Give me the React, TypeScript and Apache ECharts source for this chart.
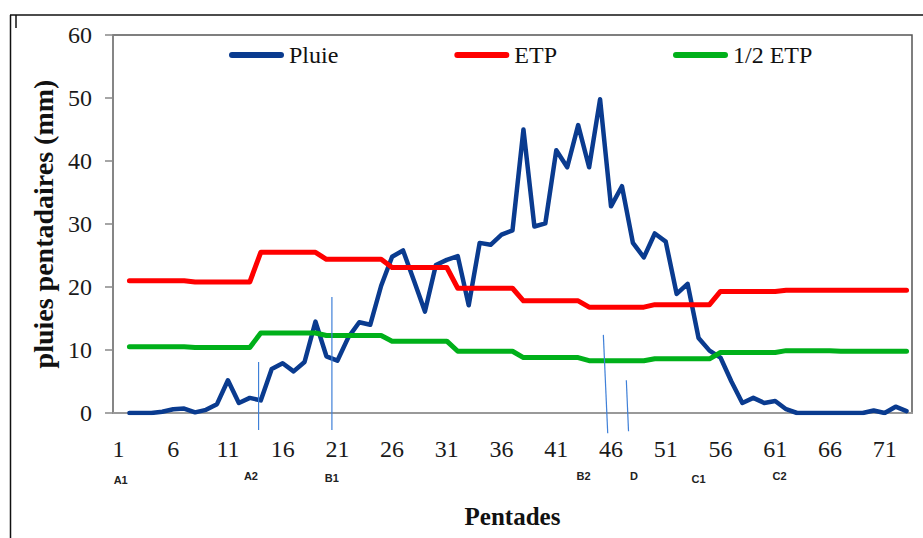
import { useEffect, useRef } from "react";
import * as echarts from "echarts";

// Pentades 1..73 (category labels)
const pentades: string[] = Array.from({ length: 73 }, (_, i) => String(i + 1));

// Pluie pentadaire (mm) (the curves begin at pentade 2)
const pluie: (number | null)[] = [
  null, 0, 0, 0, 0.2, 0.6, 0.7, 0.1, 0.5, 1.4,
  5.2, 1.6, 2.4, 2.0, 7.0, 7.9, 6.6, 8.1, 14.5, 9.0,
  8.3, 12.0, 14.4, 14.0, 20.2, 24.8, 25.8, 21.0, 16.1, 23.5,
  24.3, 24.9, 17.1, 27.0, 26.7, 28.3, 29.0, 45.0, 29.6, 30.1,
  41.7, 39.0, 45.7, 39.0, 49.8, 32.8, 36.0, 27.0, 24.7, 28.5,
  27.2, 18.9, 20.5, 11.9, 9.9, 8.8, 5.0, 1.6, 2.4, 1.6,
  1.9, 0.6, 0, 0, 0, 0, 0, 0, 0, 0.4,
  0, 1.0, 0.3,
];

// ETP (mm)
const etp: (number | null)[] = [
  null, 21.0, 21.0, 21.0, 21.0, 21.0, 21.0, 20.8, 20.8, 20.8,
  20.8, 20.8, 20.8, 25.5, 25.5, 25.5, 25.5, 25.5, 25.5, 24.4,
  24.4, 24.4, 24.4, 24.4, 24.4, 23.1, 23.1, 23.1, 23.1, 23.1,
  23.1, 19.8, 19.8, 19.8, 19.8, 19.8, 19.8, 17.8, 17.8, 17.8,
  17.8, 17.8, 17.8, 16.8, 16.8, 16.8, 16.8, 16.8, 16.8, 17.2,
  17.2, 17.2, 17.2, 17.2, 17.2, 19.3, 19.3, 19.3, 19.3, 19.3,
  19.3, 19.5, 19.5, 19.5, 19.5, 19.5, 19.5, 19.5, 19.5, 19.5,
  19.5, 19.5, 19.5,
];

// 1/2 ETP (mm)
const demiEtp: (number | null)[] = [
  null, 10.5, 10.5, 10.5, 10.5, 10.5, 10.5, 10.4, 10.4, 10.4,
  10.4, 10.4, 10.4, 12.7, 12.7, 12.7, 12.7, 12.7, 12.7, 12.3,
  12.3, 12.3, 12.3, 12.3, 12.3, 11.4, 11.4, 11.4, 11.4, 11.4,
  11.4, 9.8, 9.8, 9.8, 9.8, 9.8, 9.8, 8.8, 8.8, 8.8,
  8.8, 8.8, 8.8, 8.3, 8.3, 8.3, 8.3, 8.3, 8.3, 8.6,
  8.6, 8.6, 8.6, 8.6, 8.6, 9.6, 9.6, 9.6, 9.6, 9.6,
  9.6, 9.9, 9.9, 9.9, 9.9, 9.9, 9.8, 9.8, 9.8, 9.8,
  9.8, 9.8, 9.8,
];

const yTicks = { min: 0, max: 60, interval: 10 };

// Phase labels and their pentade positions
const phaseNames = ["A1", "A2", "B1", "B2", "D", "C1", "C2"];
const phasePentades = [1.2, 13.1, 20.5, 43.5, 48.1, 54.0, 61.4];

// Thin vertical marker segments: [pentade top, value top, pentade bottom, value bottom]
const markerSegments: number[][] = [
  [13.8, 8.1, 13.8, -2.7],
  [20.5, 18.4, 20.5, -2.7],
  [45.3, 12.4, 45.7, -3.2],
  [47.4, 5.2, 47.6, -2.9],
];

const SERIF = "Liberation Serif";
const SANS = "Liberation Sans";
const phaseLabelY = [480, 476, 478, 476, 476, 479, 476];

export default function App() {
  const ref = useRef<HTMLDivElement>(null);

  useEffect(() => {
    if (!ref.current) return;
    const chart = echarts.init(ref.current, undefined, { renderer: "svg" });

    const capsule = "path://M3,0 L52,0 A3,3 0 0 1 52,6 L3,6 A3,3 0 0 1 3,0 Z";

    chart.setOption({
      animation: false,
      backgroundColor: "#ffffff",
      textStyle: { fontFamily: SERIF },
      grid: {
        left: 113,
        right: 11,
        top: 35,
        bottom: 125,
        show: true,
        borderColor: "#555555",
        borderWidth: 1.5,
        backgroundColor: "transparent",
      },
      legend: {
        left: 224,
        top: 38,
        itemGap: 116,
        itemWidth: 55,
        itemHeight: 7,
        data: [
          { name: "Pluie", icon: capsule },
          { name: "ETP", icon: capsule },
          { name: "1/2 ETP", icon: capsule },
        ],
        textStyle: { fontFamily: SERIF, fontSize: 24, color: "#111" },
      },
      xAxis: {
        type: "category",
        data: pentades,
        boundaryGap: true,
        name: "Pentades",
        nameLocation: "middle",
        nameGap: 91,
        nameTextStyle: { fontFamily: SERIF, fontSize: 25, fontWeight: "bold", color: "#111" },
        axisLine: { show: true, lineStyle: { color: "#999999", width: 2 } },
        axisTick: { show: false },
        axisLabel: {
          interval: 4,
          margin: 24,
          fontFamily: SERIF,
          fontSize: 24,
          color: "#1a1a1a",
        },
        splitLine: { show: false },
      },
      yAxis: {
        type: "value",
        min: yTicks.min,
        max: yTicks.max,
        interval: yTicks.interval,
        name: "pluies pentadaires (mm)",
        nameLocation: "middle",
        nameGap: 51,
        nameTextStyle: { fontFamily: SERIF, fontSize: 28, fontWeight: "bold", color: "#111" },
        axisLine: { show: true, lineStyle: { color: "#888888", width: 1.5 } },
        axisTick: { show: true, length: 8, lineStyle: { color: "#888888", width: 1.5 } },
        axisLabel: { margin: 21, fontFamily: SERIF, fontSize: 24, color: "#1a1a1a" },
        splitLine: { show: false },
      },
      series: [
        {
          name: "Pluie",
          type: "line",
          data: pluie,
          showSymbol: false,
          symbol: "none",
          color: "#0a3b8f",
          lineStyle: { width: 4.5, color: "#0a3b8f", cap: "round", join: "round" },
          z: 2,
        },
        {
          name: "ETP",
          type: "line",
          data: etp,
          showSymbol: false,
          symbol: "none",
          color: "#ff0000",
          lineStyle: { width: 5, color: "#ff0000", cap: "round", join: "round" },
          z: 3,
        },
        {
          name: "1/2 ETP",
          type: "line",
          data: demiEtp,
          showSymbol: false,
          symbol: "none",
          color: "#00b01a",
          lineStyle: { width: 5, color: "#00b01a", cap: "round", join: "round" },
          z: 3,
        },
      ],
    });

    const px = (p: number, v: number): number[] => {
      const idx = p - 1;
      const i0 = Math.floor(idx);
      const frac = idx - i0;
      const a = chart.convertToPixel({ gridIndex: 0 }, [i0, v]) as number[];
      const b = chart.convertToPixel({ gridIndex: 0 }, [i0 + 1, v]) as number[];
      return [a[0] + (b[0] - a[0]) * frac, a[1]];
    };

    const graphics: any[] = [];
    // outer frame of the figure
    graphics.push({ type: "line", shape: { x1: 10, y1: 15, x2: 923, y2: 15 }, style: { stroke: "#111", lineWidth: 1.5 }, silent: true });
    graphics.push({ type: "line", shape: { x1: 10.5, y1: 15, x2: 10.5, y2: 538 }, style: { stroke: "#111", lineWidth: 1.5 }, silent: true });
    graphics.push({ type: "line", shape: { x1: 16, y1: 15, x2: 16, y2: 28 }, style: { stroke: "#111", lineWidth: 1.5 }, silent: true });

    markerSegments.forEach((s) => {
      const t = px(s[0], s[1]);
      const b = px(s[2], s[3]);
      graphics.push({
        type: "line",
        z: 10,
        shape: { x1: t[0], y1: t[1], x2: b[0], y2: b[1] },
        style: { stroke: "#3f80d8", lineWidth: 1.2 },
        silent: true,
      });
    });

    phaseNames.forEach((name, i) => {
      const p = px(phasePentades[i], 0);
      graphics.push({
        type: "text",
        z: 10,
        x: p[0],
        y: phaseLabelY[i],
        style: {
          text: name,
          fontFamily: SANS,
          fontSize: 11,
          fontWeight: "bold",
          fill: "#222",
          align: "center",
          verticalAlign: "middle",
        },
        silent: true,
      });
    });

    chart.setOption({ graphic: graphics });

    return () => chart.dispose();
  }, []);

  return (
    <div
      ref={ref}
      style={{ position: "fixed", left: 0, top: 0, width: 923, height: 538, background: "#fff" }}
    />
  );
}
